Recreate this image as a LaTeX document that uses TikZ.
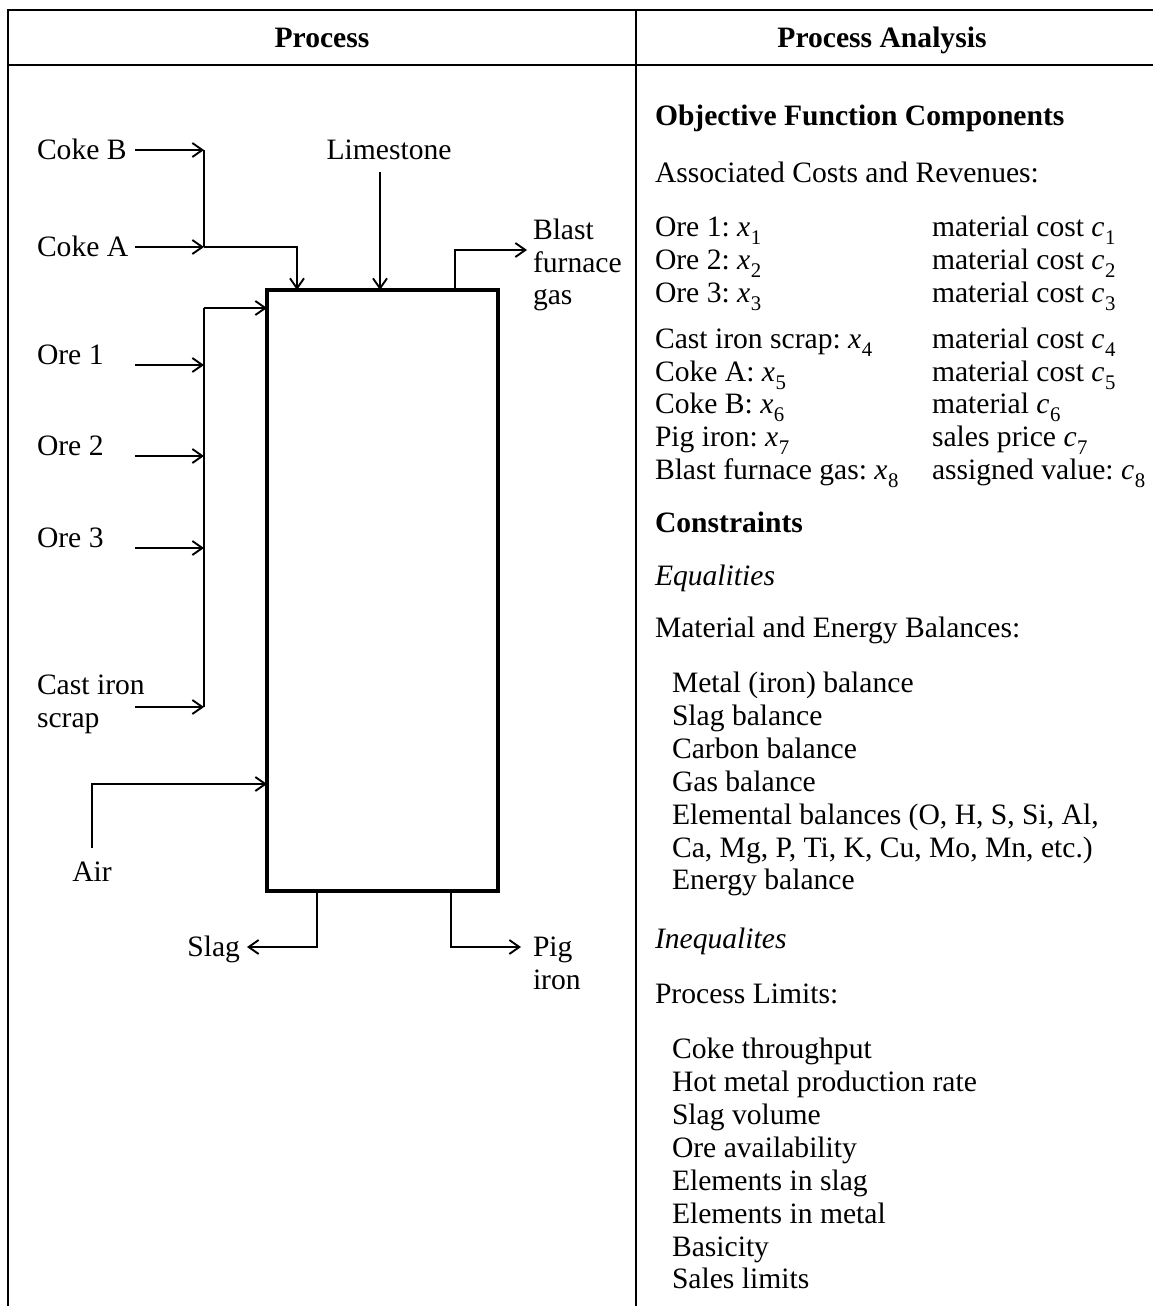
\documentclass[tikz,border=0pt]{standalone}
\usepackage{fontspec}
\setmainfont{Liberation Serif}
\usetikzlibrary{arrows.meta}
\newcommand{\subv}[2]{\textit{#1}\kern0.3pt\raisebox{-0.28em}{\fontsize{10.4pt}{11pt}\selectfont #2}}
\begin{document}
\frenchspacing
\begin{tikzpicture}[x=0.5pt,y=-0.5pt,
  every node/.style={inner sep=0pt, outer sep=0pt, font=\fontsize{14.8pt}{16.5pt}\selectfont},
  lbl/.style={anchor=base west},
  hdr/.style={anchor=base, font=\fontsize{14.8pt}{16.5pt}\selectfont\bfseries},
  flow/.style={line width=0.95pt, -{Straight Barb[length=5pt,width=7pt,line width=0.95pt]}},
  plainline/.style={line width=0.95pt},
  frame/.style={line width=1.1pt},
  furnace/.style={draw, line width=1.8pt, minimum width=115.5pt, minimum height=300.5pt}
]
\useasboundingbox (0,0) rectangle (1153,1306);
\fill[white] (0,0) rectangle (1153,1306);

% table frame
\draw[frame] (1153,10) -- (8,10) -- (8,1306);
\draw[frame] (8,65) -- (1153,65);
\draw[frame] (636,10) -- (636,1306);
\node[hdr] (h1) at (322,47) {Process};
\node[hdr] (h2) at (882,47) {Process Analysis};

% furnace
\node[furnace] (F) at (382.5,590.5) {};

% labels left
\node[lbl] (cokeB) at (37,159) {Coke B};
\node[lbl] (cokeA) at (37,256) {Coke A};
\node[anchor=base] (lime) at (389,159) {Limestone};
\node[lbl] (bfg1) at (533,239) {Blast};
\node[lbl] (bfg2) at (533,272) {furnace};
\node[lbl] (bfg3) at (533,304) {gas};
\node[lbl] (ore1) at (37,364) {Ore 1};
\node[lbl] (ore2) at (37,455) {Ore 2};
\node[lbl] (ore3) at (37,547) {Ore 3};
\node[lbl] (cast1) at (37,694) {Cast iron};
\node[lbl] (cast2) at (37,727) {scrap};
\node[anchor=base] (air) at (92,881) {Air};
\node[anchor=base east] (slag) at (240,956) {Slag};
\node[lbl] (pig1) at (533,956) {Pig};
\node[lbl] (pig2) at (533,989) {iron};

% coordinates
\coordinate (sB) at (135,150);
\coordinate (jB) at (204,150);
\coordinate (sA) at (135,247);
\coordinate (jA) at (204,247);
\coordinate (kA) at (297,247);
\coordinate (limeS) at (380,172);
\coordinate (gasJ) at (455,250);
\coordinate (gasE) at (527,250);
\coordinate (oreTop) at (204,308);
\coordinate (oreBot) at (204,707);
\coordinate (s1) at (135,365);
\coordinate (j1) at (204,365);
\coordinate (s2) at (135,456);
\coordinate (j2) at (204,456);
\coordinate (s3) at (135,548);
\coordinate (j3) at (204,548);
\coordinate (s4) at (135,707);
\coordinate (j4) at (204,707);
\coordinate (airS) at (92,848);
\coordinate (airJ) at (92,784);
\coordinate (slagJ) at (317,947);
\coordinate (slagE) at (247,947);
\coordinate (pigJ) at (451,947);
\coordinate (pigE) at (521,947);

% coke
\draw[flow] (sB) -- (jB);
\draw[flow] (sA) -- (jA);
\draw[plainline] (jB) -- (jA);
\draw[flow] (jA) -- (kA) -- (kA |- F.north);
% limestone
\draw[flow] (limeS) -- (limeS |- F.north);
% blast furnace gas
\draw[flow] (gasJ |- F.north) -- (gasJ) -- (gasE);
% ores
\draw[plainline] (oreTop) -- (oreBot);
\draw[flow] (oreTop) -- (oreTop -| F.west);
\draw[flow] (s1) -- (j1);
\draw[flow] (s2) -- (j2);
\draw[flow] (s3) -- (j3);
\draw[flow] (s4) -- (j4);
% air
\draw[flow] (airS) -- (airJ) -- (airJ -| F.west);
% outputs
\draw[flow] (slagJ |- F.south) -- (slagJ) -- (slagE);
\draw[flow] (pigJ |- F.south) -- (pigJ) -- (pigE);

% right column
\node[lbl, font=\fontsize{14.8pt}{16.5pt}\selectfont\bfseries] (ofc) at (655,125) {Objective Function Components};
\node[lbl] (acr) at (655,182) {Associated Costs and Revenues:};
\node[lbl] (r1a) at (655,236) {Ore 1: \subv{x}{1}};
\node[lbl] (r1b) at (932,236) {material cost \subv{c}{1}};
\node[lbl] (r2a) at (655,269) {Ore 2: \subv{x}{2}};
\node[lbl] (r2b) at (932,269) {material cost \subv{c}{2}};
\node[lbl] (r3a) at (655,302) {Ore 3: \subv{x}{3}};
\node[lbl] (r3b) at (932,302) {material cost \subv{c}{3}};
\node[lbl] (r4a) at (655,348) {Cast iron scrap: \subv{x}{4}};
\node[lbl] (r4b) at (932,348) {material cost \subv{c}{4}};
\node[lbl] (r5a) at (655,381) {Coke A: \subv{x}{5}};
\node[lbl] (r5b) at (932,381) {material cost \subv{c}{5}};
\node[lbl] (r6a) at (655,413) {Coke B: \subv{x}{6}};
\node[lbl] (r6b) at (932,413) {material \subv{c}{6}};
\node[lbl] (r7a) at (655,446) {Pig iron: \subv{x}{7}};
\node[lbl] (r7b) at (932,446) {sales price \subv{c}{7}};
\node[lbl] (r8a) at (655,479) {Blast furnace gas: \subv{x}{8}};
\node[lbl] (r8b) at (932,479) {assigned value: \subv{c}{8}};

\node[lbl, font=\fontsize{14.8pt}{16.5pt}\selectfont\bfseries] (cons) at (655,532) {Constraints};
\node[lbl, font=\fontsize{14.8pt}{16.5pt}\selectfont\itshape] (eq) at (655,585) {Equalities};
\node[lbl] (meb) at (655,637) {Material and Energy Balances:};
\node[lbl] (e1) at (672,692) {Metal (iron) balance};
\node[lbl] (e2) at (672,725) {Slag balance};
\node[lbl] (e3) at (672,758) {Carbon balance};
\node[lbl] (e4) at (672,791) {Gas balance};
\node[lbl] (e5) at (672,824) {Elemental balances (O, H, S, Si, Al,};
\node[lbl] (e6) at (672,857) {Ca, Mg, P, Ti, K, Cu, Mo, Mn, etc.)};
\node[lbl] (e7) at (672,889) {Energy balance};
\node[lbl, font=\fontsize{14.8pt}{16.5pt}\selectfont\itshape] (ineq) at (655,948) {Inequalites};
\node[lbl] (pl) at (655,1003) {Process Limits:};
\node[lbl] (p1) at (672,1058) {Coke throughput};
\node[lbl] (p2) at (672,1091) {Hot metal production rate};
\node[lbl] (p3) at (672,1124) {Slag volume};
\node[lbl] (p4) at (672,1157) {Ore availability};
\node[lbl] (p5) at (672,1190) {Elements in slag};
\node[lbl] (p6) at (672,1223) {Elements in metal};
\node[lbl] (p7) at (672,1256) {Basicity};
\node[lbl] (p8) at (672,1288) {Sales limits};
\end{tikzpicture}
\end{document}
